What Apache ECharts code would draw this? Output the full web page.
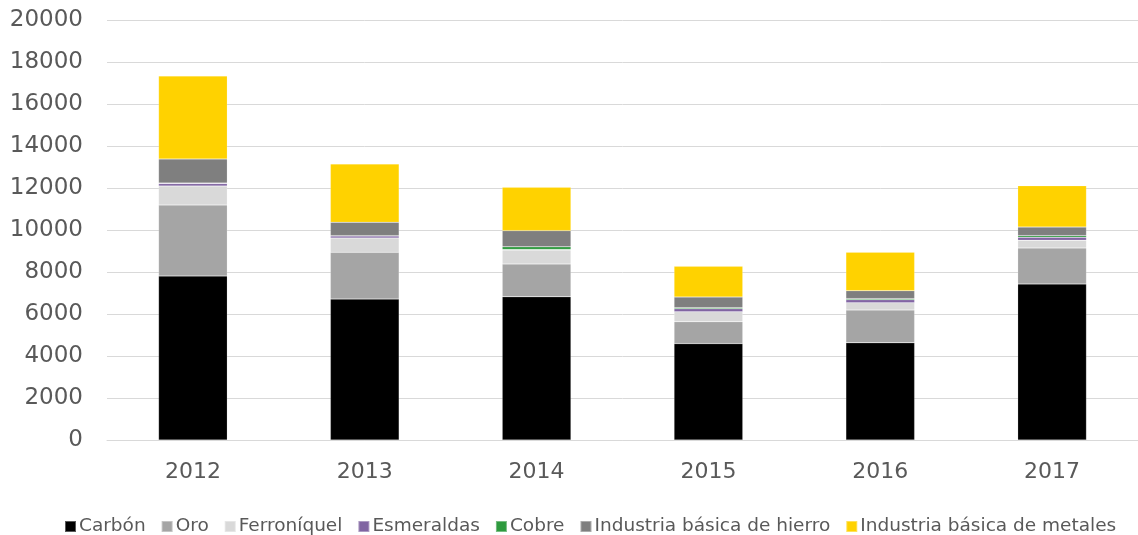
<!DOCTYPE html>
<html>
<head>
<meta charset="utf-8">
<script src="https://cdn.jsdelivr.net/npm/echarts@6/dist/echarts.min.js"></script>
<style>
  html, body { margin: 0; padding: 0; background: #fff; }
  #chart { width: 1138px; height: 535px; }
</style>
</head>
<body>
<div id="chart"></div>
<script>
const years = ['2012', '2013', '2014', '2015', '2016', '2017']
const yTicks = [0, 2000, 4000, 6000, 8000, 10000, 12000, 14000, 16000, 18000, 20000]

const carbon = [7810, 6710, 6820, 4590, 4630, 7430]
const oro = [3380, 2225, 1560, 1045, 1560, 1715]
const ferroniquel = [905, 685, 670, 475, 350, 365]
const esmeraldas = [120, 100, 20, 140, 140, 140]
const cobre = [20, 10, 130, 50, 50, 80]
const hierro = [1150, 635, 770, 510, 380, 410]
const metales = [3950, 2780, 2060, 1460, 1830, 1970]

const seriesDefs = [
  { name: 'Carbón', data: carbon, color: '#000000' },
  { name: 'Oro', data: oro, color: '#a5a5a5' },
  { name: 'Ferroníquel', data: ferroniquel, color: '#d9d9d9' },
  { name: 'Esmeraldas', data: esmeraldas, color: '#8064a2' },
  { name: 'Cobre', data: cobre, color: '#2e9a3e' },
  { name: 'Industria básica de hierro', data: hierro, color: '#7f7f7f' },
  { name: 'Industria básica de metales', data: metales, color: '#ffd200' }
]

const chart = echarts.init(document.getElementById('chart'))

chart.setOption({
  animation: false,
  textStyle: { fontFamily: 'DejaVu Sans, sans-serif' },
  grid: { left: 107, top: 20, width: 1041, height: 420, containLabel: false },
  legend: {
    top: 512,
    left: 59,
    itemWidth: 11,
    itemHeight: 11,
    itemGap: 15,
    icon: 'rect',
    textStyle: { fontSize: 18.5, color: '#595959', padding: [0, 0, 0, -2] },
    data: seriesDefs.map((s) => s.name)
  },
  xAxis: {
    type: 'category',
    data: years,
    axisTick: { show: false },
    axisLine: { lineStyle: { color: '#d9d9d9', width: 1 } },
    axisLabel: { fontSize: 22, color: '#595959', margin: 21 }
  },
  yAxis: {
    type: 'value',
    min: yTicks[0],
    max: yTicks[yTicks.length - 1],
    interval: 2000,
    axisLine: { show: false },
    axisTick: { show: false },
    axisLabel: { fontSize: 23, color: '#595959', margin: 24, formatter: (v) => String(v) },
    splitLine: { lineStyle: { color: '#d9d9d9', width: 1 } }
  },
  series: seriesDefs.map((s) => ({
    name: s.name,
    type: 'bar',
    stack: 'total',
    barWidth: '40%',
    data: s.data,
    itemStyle: { color: s.color, borderColor: 'rgba(255,255,255,0.35)', borderWidth: 0.5 }
  }))
})
</script>
</body>
</html>
